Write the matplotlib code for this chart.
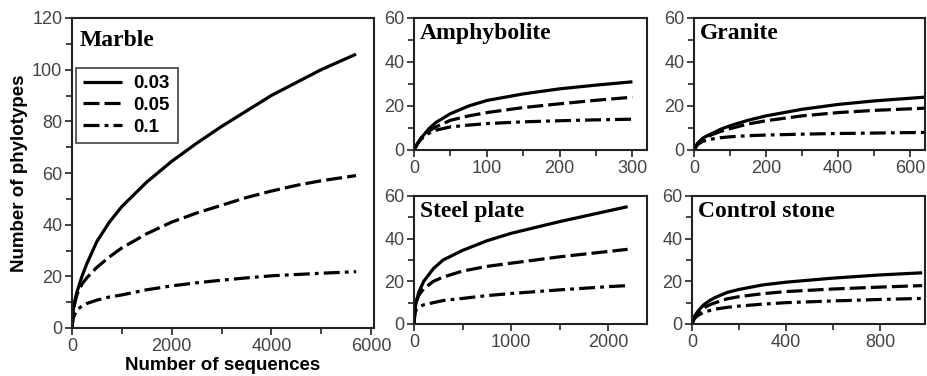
import matplotlib
matplotlib.use("Agg")
import matplotlib.pyplot as plt
from matplotlib.ticker import MultipleLocator

# rarefaction curves: x = number of sequences
marble_x = [0, 25, 50, 100, 200, 300, 500, 750, 1000, 1500, 2000, 2500, 3000,
            3500, 4000, 4500, 5000, 5700]
marble_003 = [0, 7, 10, 14, 20, 25, 33.5, 41, 47, 56.5, 64.5, 71.5, 78, 84,
              90, 95, 100, 106]
marble_005 = [0, 6, 9, 13, 17, 19.5, 23.5, 27.5, 31, 36.5, 41, 44.5, 47.5,
              50.5, 53, 55.2, 57, 59]
marble_01 = [0, 4, 5, 7, 8.5, 9.5, 10.8, 12, 12.8, 14.8, 16.3, 17.5, 18.5,
             19.4, 20.2, 20.7, 21.2, 21.8]

amph_x = [0, 5, 10, 20, 30, 50, 75, 100, 150, 200, 250, 300]
amph_003 = [0, 3, 5.5, 9.5, 12.5, 16.5, 20, 22.5, 25.5, 27.8, 29.5, 31]
amph_005 = [0, 3, 5.5, 8.5, 10.5, 13.5, 15.5, 17, 19.3, 21, 22.6, 24]
amph_01 = [0, 3, 5, 7.5, 9, 10.5, 11.3, 12, 12.8, 13.3, 13.7, 14]

gran_x = [0, 10, 25, 50, 75, 100, 150, 200, 300, 400, 500, 640]
gran_003 = [0, 3, 5.5, 7.5, 9.5, 11, 13.5, 15.5, 18.5, 20.7, 22.3, 24]
gran_005 = [0, 3, 5, 7, 8.5, 9.7, 11.8, 13.3, 15.5, 17, 18, 19]
gran_01 = [0, 2.5, 4, 5, 5.6, 6, 6.5, 6.8, 7.2, 7.5, 7.7, 8]

steel_x = [0, 10, 25, 50, 100, 200, 300, 500, 750, 1000, 1500, 2000, 2200]
steel_003 = [0, 7, 11, 15, 20, 26, 30, 34.5, 39, 42.5, 48, 53, 55]
steel_005 = [0, 7, 10.5, 13.5, 16.5, 20, 22, 24.8, 27, 28.5, 31.5, 34, 35]
steel_01 = [0, 5, 7, 8, 9, 10, 11, 12, 13.3, 14.3, 16, 17.5, 18]

ctrl_x = [0, 10, 25, 50, 75, 100, 150, 200, 300, 400, 600, 800, 980]
ctrl_003 = [0, 3.5, 6, 9, 11, 12.5, 14.8, 16.2, 18.3, 19.6, 21.5, 23, 24]
ctrl_005 = [0, 3, 5, 7.5, 9, 10, 11.8, 12.8, 14.2, 15.2, 16.4, 17.3, 18]
ctrl_01 = [0, 2.5, 4, 5.5, 6.3, 7, 7.8, 8.4, 9.3, 10, 10.8, 11.5, 12]

labels = ["0.03", "0.05", "0.1"]
styles = [(0, ()), (0, (5, 1.6)), (0, (5, 1.6, 1.2, 1.6))]

W, H = 928, 376
serif = "Liberation Serif"
sans = "Liberation Sans"

fig = plt.figure(figsize=(W / 100, H / 100), dpi=100)


def panel(l, r, t, b):
    return fig.add_axes([l / W, 1 - b / H, (r - l) / W, (b - t) / H])


def draw(ax, x, series, title, xlim, ylim, xmaj, xmin):
    lines = []
    for y, ls, lab in zip(series, styles, labels):
        ln, = ax.plot(x, y, color="black", lw=2.3, linestyle=ls, label=lab,
                      solid_joinstyle="round")
        lines.append(ln)
    ax.set_xlim(*xlim)
    ax.set_ylim(*ylim)
    ax.xaxis.set_major_locator(MultipleLocator(xmaj))
    ax.xaxis.set_minor_locator(MultipleLocator(xmin))
    ax.yaxis.set_major_locator(MultipleLocator(20))
    ax.yaxis.set_minor_locator(MultipleLocator(10))
    ax.tick_params(which="both", direction="out", width=1.2, colors="#222222",
                   labelsize=13, labelcolor="#444444")
    ax.tick_params(which="major", length=5, pad=2)
    ax.tick_params(which="minor", length=4)
    for sp in ax.spines.values():
        sp.set_linewidth(1.5)
        sp.set_color("#222222")
    for lab in ax.get_xticklabels() + ax.get_yticklabels():
        lab.set_fontfamily(sans)
    ax.text(0.025, 0.96, title, transform=ax.transAxes, ha="left", va="top",
            fontsize=17, fontweight="bold", fontfamily=serif)
    return lines


ax1 = panel(72, 374, 18, 328)
lines = draw(ax1, marble_x, [marble_003, marble_005, marble_01], "Marble",
             (0, 6060), (0, 120), 2000, 1000)
ax1.set_xlabel("Number of sequences", fontsize=13.5, fontweight="bold",
               fontfamily=sans, labelpad=2)
ax1.set_ylabel("Number of phylotypes", fontsize=13.5, fontweight="bold",
               fontfamily=sans, labelpad=3)
leg = ax1.legend(handles=lines, loc="upper left", bbox_to_anchor=(0.012, 0.84),
                 frameon=True, fancybox=False, edgecolor="#222222",
                 prop={"family": sans, "weight": "bold", "size": 13.5},
                 handlelength=2.1, handletextpad=0.6, labelspacing=0.25,
                 borderpad=0.4, borderaxespad=0)
leg.get_frame().set_linewidth(1.3)

ax2 = panel(414, 647, 18, 150)
draw(ax2, amph_x, [amph_003, amph_005, amph_01], "Amphybolite",
     (0, 320), (0, 60), 100, 50)

ax3 = panel(694, 925, 18, 150)
draw(ax3, gran_x, [gran_003, gran_005, gran_01], "Granite",
     (0, 642), (0, 60), 200, 100)

ax4 = panel(414, 647, 196, 324)
draw(ax4, steel_x, [steel_003, steel_005, steel_01], "Steel plate",
     (0, 2400), (0, 60), 1000, 500)

ax5 = panel(692, 925, 196, 324)
draw(ax5, ctrl_x, [ctrl_003, ctrl_005, ctrl_01], "Control stone",
     (0, 992), (0, 60), 400, 200)

fig.savefig("out.png", dpi=100)
